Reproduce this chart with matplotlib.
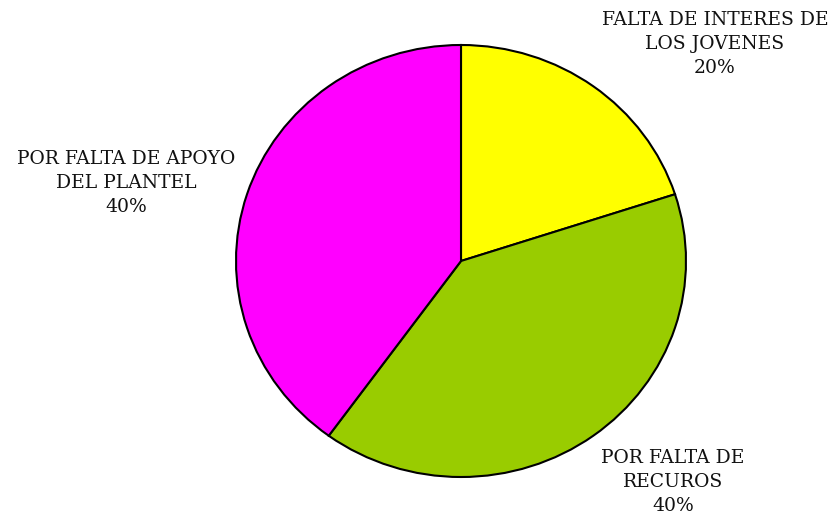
import matplotlib.pyplot as plt

labels = ['FALTA DE INTERES DE\nLOS JOVENES\n20%',
          'POR FALTA DE\nRECUROS\n40%',
          'POR FALTA DE APOYO\nDEL PLANTEL\n40%']
values = [20, 40, 40]
colors = ['#FFFF00', '#99CC00', '#FF00FF']

W, H = 836, 516
fig = plt.figure(figsize=(W / 100, H / 100), dpi=100)

# pie box in pixels (slightly squashed, like the original)
left, right, top, bottom = 236, 686, 45, 477
ax = fig.add_axes([left / W, 1 - bottom / H, (right - left) / W, (bottom - top) / H])
ax.pie(values, colors=colors, startangle=90, counterclock=False,
       wedgeprops=dict(edgecolor='black', linewidth=1.5))
ax.set_aspect('auto')
ax.set_xlim(-1.0, 1.0)
ax.set_ylim(-1.0, 1.0)
ax.axis('off')

# label centres in pixels
label_pos = [(715, 44), (673, 482), (126, 183)]
for txt, (x, y) in zip(labels, label_pos):
    fig.text(x / W, 1 - y / H, txt, ha='center', va='center', family='DejaVu Serif',
             fontsize=13.5, linespacing=1.42, color='#111111')

fig.savefig('out.png', dpi=100)
